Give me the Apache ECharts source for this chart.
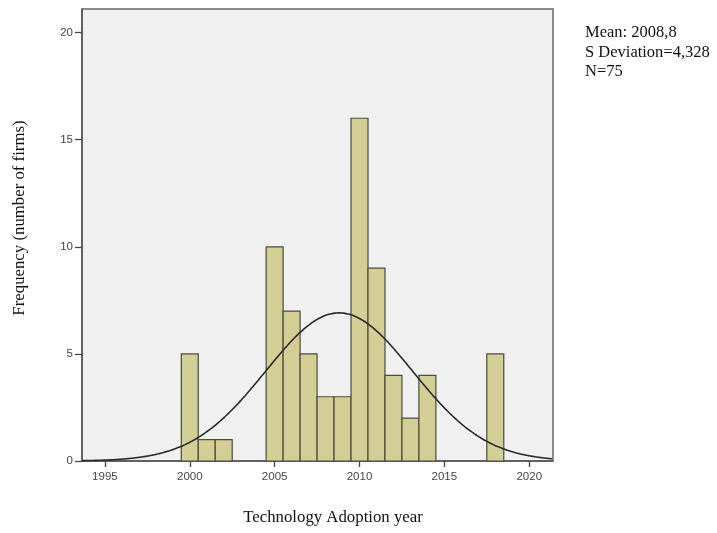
<!DOCTYPE html>
<html><head><meta charset="utf-8">
<script src="https://cdn.jsdelivr.net/npm/echarts@6/dist/echarts.min.js"></script>
<style>html,body{margin:0;padding:0;background:#fff}#c{width:717px;height:533px}</style>
</head><body><div id="c"></div>
<script>
const years = [2000, 2001, 2002, 2005, 2006, 2007, 2008, 2009, 2010, 2011, 2012, 2013, 2014, 2018];
const counts = [5, 1, 1, 10, 7, 5, 3, 3, 16, 9, 4, 2, 4, 5];
const xTicks = [1995, 2000, 2005, 2010, 2015, 2020];
const yTicks = [0, 5, 10, 15, 20];
const mean = 2008.8, sd = 4.328, n = 75;
const xMin = 1993.65, xMax = 2021.4, yMax = 21.1;

const curve = [];
for (let x = xMin; x <= xMax + 1e-9; x += 0.1) {
  const y = n / (sd * Math.sqrt(2 * Math.PI)) * Math.exp(-0.5 * Math.pow((x - mean) / sd, 2));
  curve.push([x, y]);
}

const chart = echarts.init(document.getElementById('c'));
chart.setOption({
  animation: false,
  grid: { left: 82, right: 164, top: 9, bottom: 72, show: true, backgroundColor: '#f0f0f0', borderColor: '#666', borderWidth: 1.5 },
  xAxis: {
    type: 'value', min: xMin, max: xMax,
    axisLine: { show: true, onZero: false, lineStyle: { color: '#555', width: 1.5 } },
    axisTick: { show: true, customValues: xTicks, length: 6, lineStyle: { color: '#444', width: 1.3 } },
    axisLabel: { customValues: xTicks, formatter: v => String(v), color: '#444', fontSize: 11.5, fontFamily: 'Liberation Sans', margin: 10 },
    splitLine: { show: false }
  },
  yAxis: {
    type: 'value', min: 0, max: yMax,
    axisLine: { show: true, lineStyle: { color: '#555', width: 1.5 } },
    axisTick: { show: true, customValues: yTicks, length: 7, lineStyle: { color: '#444', width: 1.3 } },
    axisLabel: { customValues: yTicks, formatter: v => String(v), color: '#444', fontSize: 11.5, fontFamily: 'Liberation Sans', margin: 9 },
    splitLine: { show: false }
  },
  graphic: [{
    type: 'text', left: 585, top: 23,
    style: { text: 'Mean: 2008,8\nS Deviation=4,328\nN=75', fontFamily: 'Liberation Serif', fontSize: 16.5, lineHeight: 19.5, fill: '#111' }
  }, {
    type: 'text', x: 333, y: 518,
    style: { text: 'Technology Adoption year', fontFamily: 'Liberation Serif', fontSize: 16.8, fill: '#111', align: 'center', verticalAlign: 'middle' }
  }, {
    type: 'text', x: 20, y: 218, rotation: Math.PI / 2,
    style: { text: 'Frequency (number of firms)', fontFamily: 'Liberation Serif', fontSize: 16.8, fill: '#111', align: 'center', verticalAlign: 'middle' }
  }],
  series: [{
    type: 'custom',
    data: years.map((y, i) => [y, counts[i]]),
    renderItem: function (params, api) {
      const x = api.value(0), v = api.value(1);
      const p0 = api.coord([x - 0.5, v]);
      const p1 = api.coord([x + 0.5, 0]);
      return { type: 'rect', shape: { x: p0[0], y: p0[1], width: p1[0] - p0[0], height: p1[1] - p0[1] },
        style: { fill: '#d3ce95', stroke: '#4d4b3a', lineWidth: 1.2 } };
    },
    z: 2
  }, {
    type: 'line', data: curve, showSymbol: false, smooth: true,
    lineStyle: { color: '#2a2a2a', width: 1.6 }, z: 3
  }]
});
</script></body></html>
